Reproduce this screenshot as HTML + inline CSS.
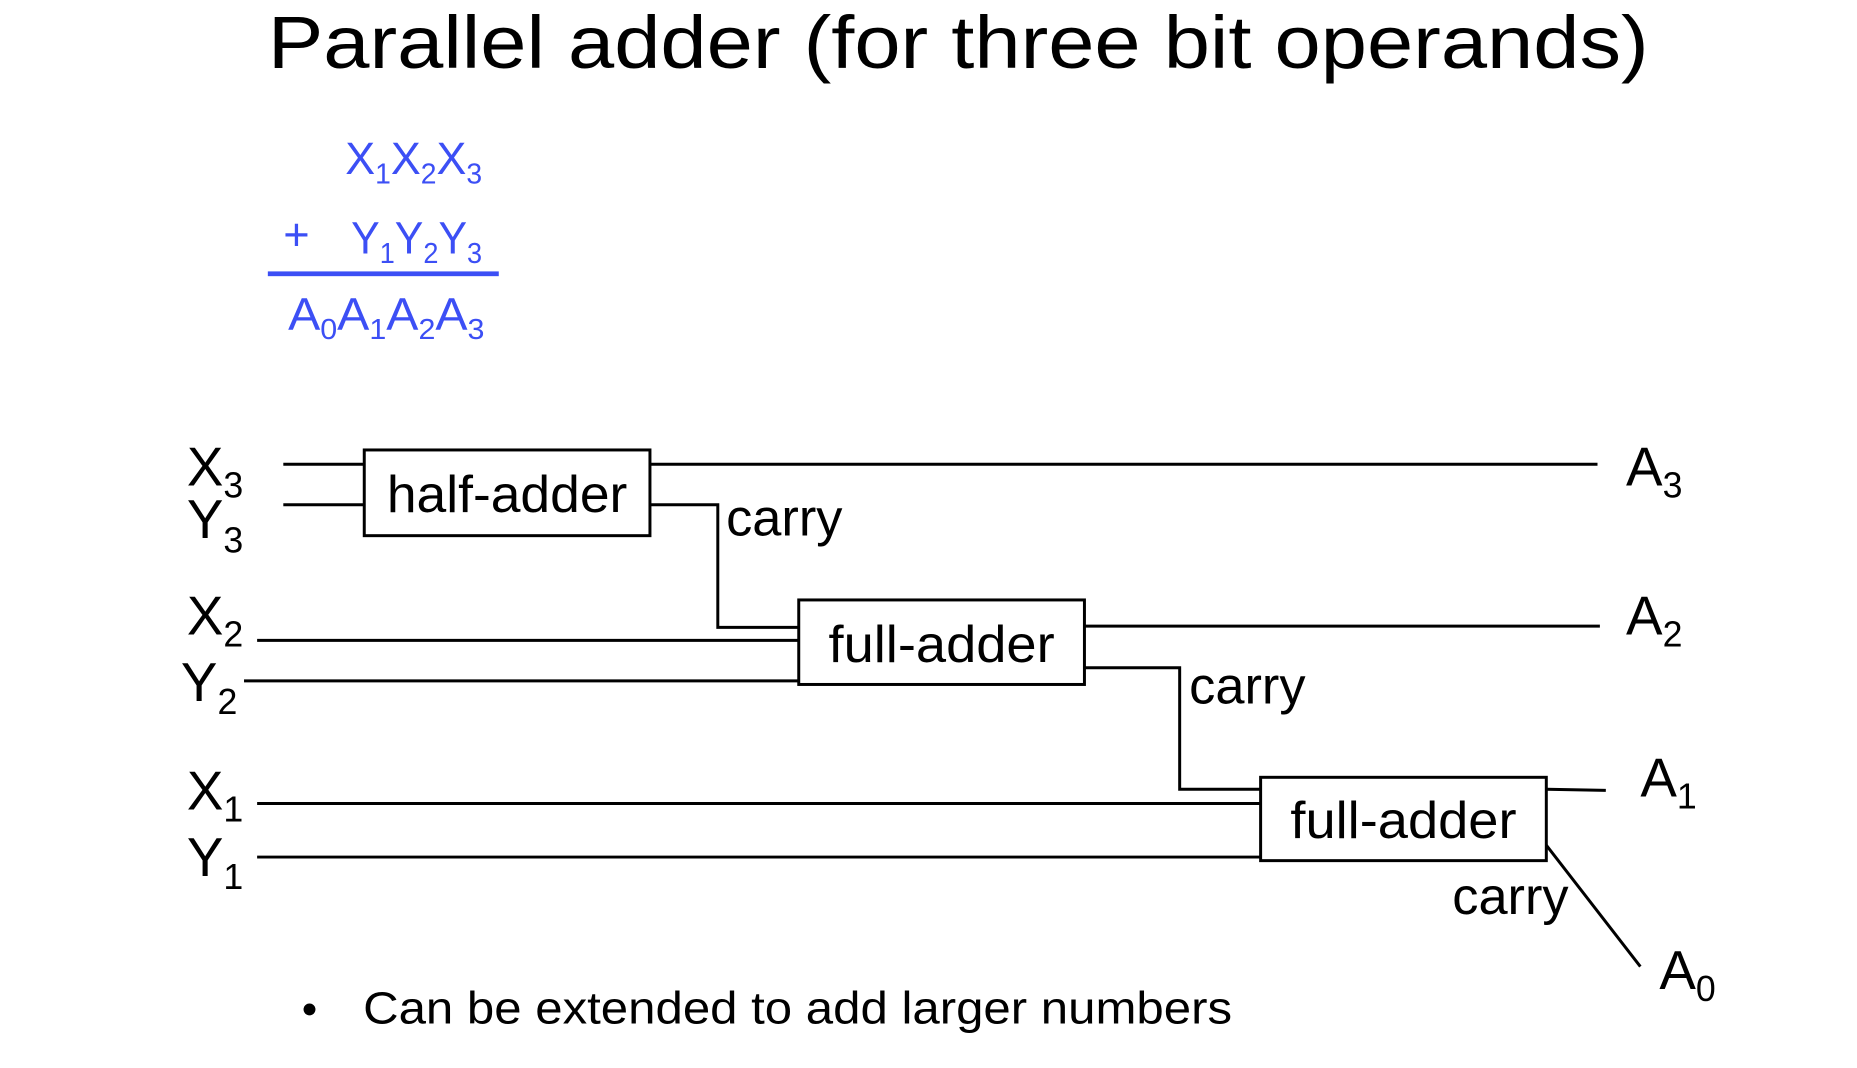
<!DOCTYPE html>
<html><head><meta charset="utf-8"><style>html,body{margin:0;padding:0;background:#fff;overflow:hidden}</style></head>
<body>
<svg width="1857" height="1063" viewBox="0 0 1560 893" preserveAspectRatio="none" xmlns="http://www.w3.org/2000/svg">
<rect width="1560" height="893" fill="#fff"/>
<text x="225" y="57" font-family="Liberation Sans, sans-serif" font-size="62" textLength="1160" lengthAdjust="spacingAndGlyphs" fill="#000">Parallel adder (for three bit operands)</text>
<g font-family="Liberation Sans, sans-serif" fill="#3c4ff5">
<text x="290" y="146" font-size="38" textLength="115" lengthAdjust="spacingAndGlyphs">X<tspan font-size="24" dy="8">1</tspan><tspan dy="-8">X</tspan><tspan font-size="24" dy="8">2</tspan><tspan dy="-8">X</tspan><tspan font-size="24" dy="8">3</tspan></text>
<text x="238" y="210" font-size="38">+</text>
<text x="295" y="213" font-size="38" textLength="110" lengthAdjust="spacingAndGlyphs">Y<tspan font-size="24" dy="8">1</tspan><tspan dy="-8">Y</tspan><tspan font-size="24" dy="8">2</tspan><tspan dy="-8">Y</tspan><tspan font-size="24" dy="8">3</tspan></text>
<rect x="225" y="228" width="194" height="4"/>
<text x="242" y="277" font-size="38" textLength="165" lengthAdjust="spacingAndGlyphs">A<tspan font-size="24" dy="8">0</tspan><tspan dy="-8">A</tspan><tspan font-size="24" dy="8">1</tspan><tspan dy="-8">A</tspan><tspan font-size="24" dy="8">2</tspan><tspan dy="-8">A</tspan><tspan font-size="24" dy="8">3</tspan></text>
</g>
<g stroke="#000" stroke-width="2.5" fill="none">
<rect x="306" y="378" width="240" height="72"/>
<rect x="671" y="504" width="240" height="71"/>
<rect x="1059" y="653" width="240" height="70"/>
<path d="M238 390H306M238 424H306M546 390H1342M546 424H603V527H671M216 538H671M205 572H671M911 526H1344M911 561H991V663H1059M216 675H1059M216 720H1059M1299 663L1349 664M1299 710L1378 812"/>
</g>
<g font-family="Liberation Sans, sans-serif" fill="#000" font-size="44">
<text x="426" y="430" text-anchor="middle" textLength="202" lengthAdjust="spacingAndGlyphs">half-adder</text>
<text x="791" y="556" text-anchor="middle" textLength="190" lengthAdjust="spacingAndGlyphs">full-adder</text>
<text x="1179" y="704" text-anchor="middle" textLength="190" lengthAdjust="spacingAndGlyphs">full-adder</text>
<text x="610" y="450">carry</text>
<text x="999" y="591">carry</text>
<text x="1220" y="768">carry</text>
<text x="157" y="408" font-size="46">X<tspan font-size="30" dy="10">3</tspan></text>
<text x="157" y="452" font-size="46">Y<tspan font-size="30" dy="12">3</tspan></text>
<text x="157" y="533" font-size="46">X<tspan font-size="30" dy="10">2</tspan></text>
<text x="152" y="589" font-size="46">Y<tspan font-size="30" dy="11">2</tspan></text>
<text x="157" y="680" font-size="46">X<tspan font-size="30" dy="10">1</tspan></text>
<text x="157" y="736" font-size="46">Y<tspan font-size="30" dy="11">1</tspan></text>
<text x="1366" y="408" font-size="46">A<tspan font-size="30" dy="10">3</tspan></text>
<text x="1366" y="533" font-size="46">A<tspan font-size="30" dy="10">2</tspan></text>
<text x="1378" y="669" font-size="46">A<tspan font-size="30" dy="10">1</tspan></text>
<text x="1394" y="831" font-size="46">A<tspan font-size="30" dy="10">0</tspan></text>
</g>
<circle cx="260" cy="848" r="5" fill="#000"/>
<text x="305" y="860" font-family="Liberation Sans, sans-serif" font-size="38" textLength="730" lengthAdjust="spacingAndGlyphs" fill="#000">Can be extended to add larger numbers</text>
</svg>
</body></html>
